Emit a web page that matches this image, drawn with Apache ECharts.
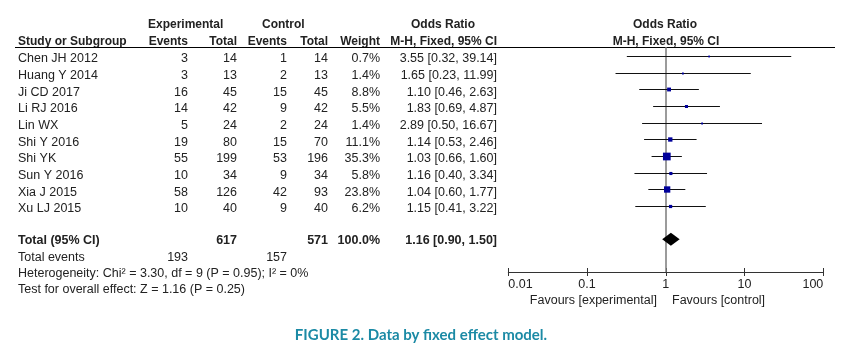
<!DOCTYPE html>
<html><head><meta charset="utf-8">
<script src="https://cdn.jsdelivr.net/npm/echarts@6/dist/echarts.min.js"></script>
<style>html,body{margin:0;padding:0;background:#fff}#c{width:844px;height:359px}</style>
</head><body><div id="c"></div>
<script>
const studies = ['Chen JH 2012','Huang Y 2014','Ji CD 2017','Li RJ 2016','Lin WX','Shi Y 2016','Shi YK','Sun Y 2016','Xia J 2015','Xu LJ 2015'];
const expEvents = [3,3,16,14,5,19,55,10,58,10];
const expTotal = [14,13,45,42,24,80,199,34,126,40];
const ctrlEvents = [1,2,15,9,2,15,53,9,42,9];
const ctrlTotal = [14,13,45,42,24,70,196,34,93,40];
const weights = [0.7,1.4,8.8,5.5,1.4,11.1,35.3,5.8,23.8,6.2];
const orVals = [3.55,1.65,1.10,1.83,2.89,1.14,1.03,1.16,1.04,1.15];
const ciLow = [0.32,0.23,0.46,0.69,0.50,0.53,0.66,0.40,0.60,0.41];
const ciHigh = [39.14,11.99,2.63,4.87,16.67,2.46,1.60,3.34,1.77,3.22];
const totalOR = [1.16, 0.90, 1.50];
const totalN = [617, 571];
const totalEvents = [193, 157];
const totalWeight = '100.0%';
const tickLabels = [0.01, 0.1, 1, 10, 100];
const nullEffect = 1;
const heterogeneity = 'Heterogeneity: Chi\u00b2 = 3.30, df = 9 (P = 0.95); I\u00b2 = 0%';
const overallTest = 'Test for overall effect: Z = 1.16 (P = 0.25)';
const caption = 'FIGURE 2. Data by fixed effect model.';

const chart = echarts.init(document.getElementById('c'), null, {renderer:'canvas'});
const TOTAL_ROW = 11;
const studyData = studies.map((s,i)=>[orVals[i], ciLow[i], ciHigh[i], weights[i], i]);

const option = {
  animation:false,
  backgroundColor:'#fff',
  grid:{left:508.3, right:20.7, top:47, bottom:87},
  xAxis:[{
    type:'log', logBase:10, min:tickLabels[0], max:tickLabels[tickLabels.length-1],
    position:'bottom',
    axisLine:{show:true, onZero:false, lineStyle:{color:'#333', width:1}},
    axisTick:{show:true, inside:false, length:4, lineStyle:{color:'#333', width:1}},
    axisLabel:{show:true, margin:6, color:'#222', fontFamily:'Liberation Sans', fontSize:12.5,
      alignMinLabel:'left', alignMaxLabel:'right',
      formatter:v=>String(tickLabels.find(t=>Math.abs(Math.log10(t)-Math.log10(v))<1e-6) ?? v)},
    splitLine:{show:false}
  },{
    type:'log', logBase:10, min:tickLabels[0], max:tickLabels[tickLabels.length-1],
    position:'bottom',
    axisLine:{show:false, onZero:false},
    axisTick:{show:true, inside:true, length:4, lineStyle:{color:'#333', width:1}},
    axisLabel:{show:false}, splitLine:{show:false}
  }],
  yAxis:{type:'value', inverse:true, min:-0.54, max:12.96, show:false},
  series:[{
    type:'line', xAxisIndex:0, data:[], z:1, silent:true,
    markLine:{silent:true, symbol:'none', label:{show:false},
      lineStyle:{color:'#7a7a7a', width:1.5, type:'solid'},
      data:[{xAxis:nullEffect}]}
  },{
    type:'custom',
    xAxisIndex:0, z:5,
    data:studyData,
    encode:{x:[0,1,2], y:4},
    renderItem:(params, api)=>{
      const yv = api.value(4);
      const pLo = api.coord([api.value(1), yv]);
      const pHi = api.coord([api.value(2), yv]);
      const pOr = api.coord([api.value(0), yv]);
      const s = Math.max(1.8, 1.3*Math.sqrt(api.value(3)));
      const yy = Math.round(pLo[1]) + 0.5;
      return {type:'group', children:[
        {type:'line', shape:{x1:pLo[0], y1:yy, x2:pHi[0], y2:yy}, style:{stroke:'#111', lineWidth:1}},
        {type:'rect', shape:{x:pOr[0]-s/2, y:yy-s/2, width:s, height:s}, style:{fill:'#00009a'}}
      ]};
    }
  },{
    type:'custom',
    xAxisIndex:0, z:5,
    data:[[totalOR[0], totalOR[1], totalOR[2], TOTAL_ROW]],
    encode:{x:[0,1,2], y:3},
    renderItem:(params, api)=>{
      const yv = api.value(3);
      const pLo = api.coord([api.value(1), yv]);
      const pHi = api.coord([api.value(2), yv]);
      const pOr = api.coord([api.value(0), yv]);
      const h = 6.5;
      return {type:'polygon', shape:{points:[[pLo[0],pLo[1]],[pOr[0],pOr[1]-h],[pHi[0],pHi[1]],[pOr[0],pOr[1]+h]]},
        style:{fill:'#000'}};
    }
  }]
};
chart.setOption(option);

const REG = '12.5px "Liberation Sans"';
const BOLD = 'bold 12px "Liberation Sans"';
const COL = '#222';
const g = [];
function txt(t, x, y, align, font, fill){
  g.push({type:'text', x:x, y:y, silent:true,
    style:{text:String(t), font:font||REG, fill:fill||COL, align:align||'left', verticalAlign:'middle'}});
}
// header
txt('Experimental', 148, 25, 'left', BOLD);
txt('Control', 262, 25, 'left', BOLD);
txt('Odds Ratio', 443, 25, 'center', BOLD);
txt('Odds Ratio', 665, 25, 'center', BOLD);
txt('Study or Subgroup', 18, 41.5, 'left', BOLD);
txt('Events', 188, 41.5, 'right', BOLD);
txt('Total', 237, 41.5, 'right', BOLD);
txt('Events', 287, 41.5, 'right', BOLD);
txt('Total', 328, 41.5, 'right', BOLD);
txt('Weight', 380, 41.5, 'right', BOLD);
txt('M-H, Fixed, 95% CI', 497, 41.5, 'right', BOLD);
txt('M-H, Fixed, 95% CI', 666, 41.5, 'center', BOLD);
g.push({type:'line', silent:true, shape:{x1:15, y1:47.5, x2:835, y2:47.5}, style:{stroke:'#000', lineWidth:1.2}});

studies.forEach((s,i)=>{
  const y = chart.convertToPixel({yAxisIndex:0}, i) + 3;
  txt(s, 18, y);
  txt(expEvents[i], 188, y, 'right');
  txt(expTotal[i], 237, y, 'right');
  txt(ctrlEvents[i], 287, y, 'right');
  txt(ctrlTotal[i], 328, y, 'right');
  txt(weights[i].toFixed(1)+'%', 380, y, 'right');
  txt(orVals[i].toFixed(2)+' ['+ciLow[i].toFixed(2)+', '+ciHigh[i].toFixed(2)+']', 497, y, 'right');
});
const BOLD2 = 'bold 12.5px "Liberation Sans"';
const ty = chart.convertToPixel({yAxisIndex:0}, TOTAL_ROW) + 1.5;
txt('Total (95% CI)', 18, ty, 'left', BOLD2);
txt(totalN[0], 237, ty, 'right', BOLD2);
txt(totalN[1], 328, ty, 'right', BOLD2);
txt(totalWeight, 380, ty, 'right', BOLD2);
txt(totalOR[0].toFixed(2)+' ['+totalOR[1].toFixed(2)+', '+totalOR[2].toFixed(2)+']', 497, ty, 'right', BOLD2);
txt('Total events', 18, ty+16.5);
txt(totalEvents[0], 188, ty+16.5, 'right');
txt(totalEvents[1], 287, ty+16.5, 'right');
txt(heterogeneity, 18, ty+32.5);
txt(overallTest, 18, ty+48.5);
txt('Favours [experimental]', 657, 301, 'right');
txt('Favours [control]', 672, 301, 'left');
txt(caption, 421, 335, 'center', 'bold 15px Lato', '#1b8aa5');
chart.setOption({graphic:g});
</script></body></html>
